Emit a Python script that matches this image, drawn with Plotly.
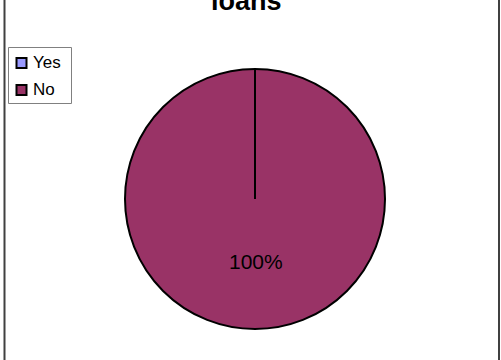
import plotly.graph_objects as go

# Chart data
categories = ["Yes", "No"]
values = [0, 100]
colors = ["#9999FF", "#993366"]
title_text = "loans"

W, H = 501, 360
FONT = "Liberation Sans, Arial, sans-serif"


def px_x(x):
    return x / W


def px_y(y):
    return 1 - y / H


# Pie placement (pixel box of the circle)
pie_left, pie_right, pie_top, pie_bottom = 125, 385, 69, 329
cx = (pie_left + pie_right) / 2
cy = (pie_top + pie_bottom) / 2

fig = go.Figure()
fig.add_trace(go.Pie(
    labels=categories,
    values=values,
    marker=dict(colors=colors, line=dict(color="black", width=2)),
    sort=False,
    direction="clockwise",
    rotation=0,
    textinfo="none",
    hoverinfo="label+percent",
    showlegend=False,
    domain=dict(x=[px_x(pie_left), px_x(pie_right)],
                y=[px_y(pie_bottom), px_y(pie_top)]),
))

shapes = []
annotations = []

# Slice boundary from the centre to the 12 o'clock start angle
shapes.append(dict(type="line", xref="paper", yref="paper",
                   x0=px_x(cx), x1=px_x(cx), y0=px_y(pie_top), y1=px_y(cy),
                   line=dict(color="black", width=2)))

# Percentage label for the largest slice
total = sum(values)
big = max(range(len(values)), key=lambda i: values[i])
annotations.append(dict(xref="paper", yref="paper", x=px_x(cx + 1), y=px_y(261),
                        text=f"{values[big] / total * 100:.0f}%", showarrow=False,
                        xanchor="center", yanchor="middle",
                        font=dict(family=FONT, size=21, color="black")))

# Title (upper part falls outside the page)
annotations.append(dict(xref="paper", yref="paper", x=px_x(246), y=px_y(1.5),
                        text=f"<b>{title_text}</b>", showarrow=False,
                        xanchor="center", yanchor="middle",
                        font=dict(family=FONT, size=27, color="black")))

# Legend box with one entry per category
shapes.append(dict(type="rect", xref="paper", yref="paper",
                   x0=px_x(8.5), x1=px_x(71.5), y0=px_y(47.5), y1=px_y(103.5),
                   line=dict(color="#808080", width=1), fillcolor="white"))
row_y = [62.5, 89.5]
for i, (label, col) in enumerate(zip(categories, colors)):
    yc = row_y[i]
    shapes.append(dict(type="rect", xref="paper", yref="paper",
                       x0=px_x(16.5), x1=px_x(26.5), y0=px_y(yc - 5 + 0.5), y1=px_y(yc + 5 + 0.5),
                       line=dict(color="black", width=2), fillcolor=col))
    annotations.append(dict(xref="paper", yref="paper", x=px_x(31), y=px_y(yc),
                            text=label, showarrow=False, xanchor="left", yanchor="middle",
                            font=dict(family=FONT, size=17, color="black")))

# Chart-area frame edges
for x in (4.5, 499):
    shapes.append(dict(type="line", xref="paper", yref="paper",
                       x0=px_x(x), x1=px_x(x), y0=-0.05, y1=1.05,
                       line=dict(color="#404040", width=2)))

fig.update_layout(
    width=W, height=H,
    margin=dict(l=0, r=0, t=0, b=0),
    paper_bgcolor="white",
    plot_bgcolor="white",
    shapes=shapes,
    annotations=annotations,
    showlegend=False,
)

fig.write_html("out.html")
